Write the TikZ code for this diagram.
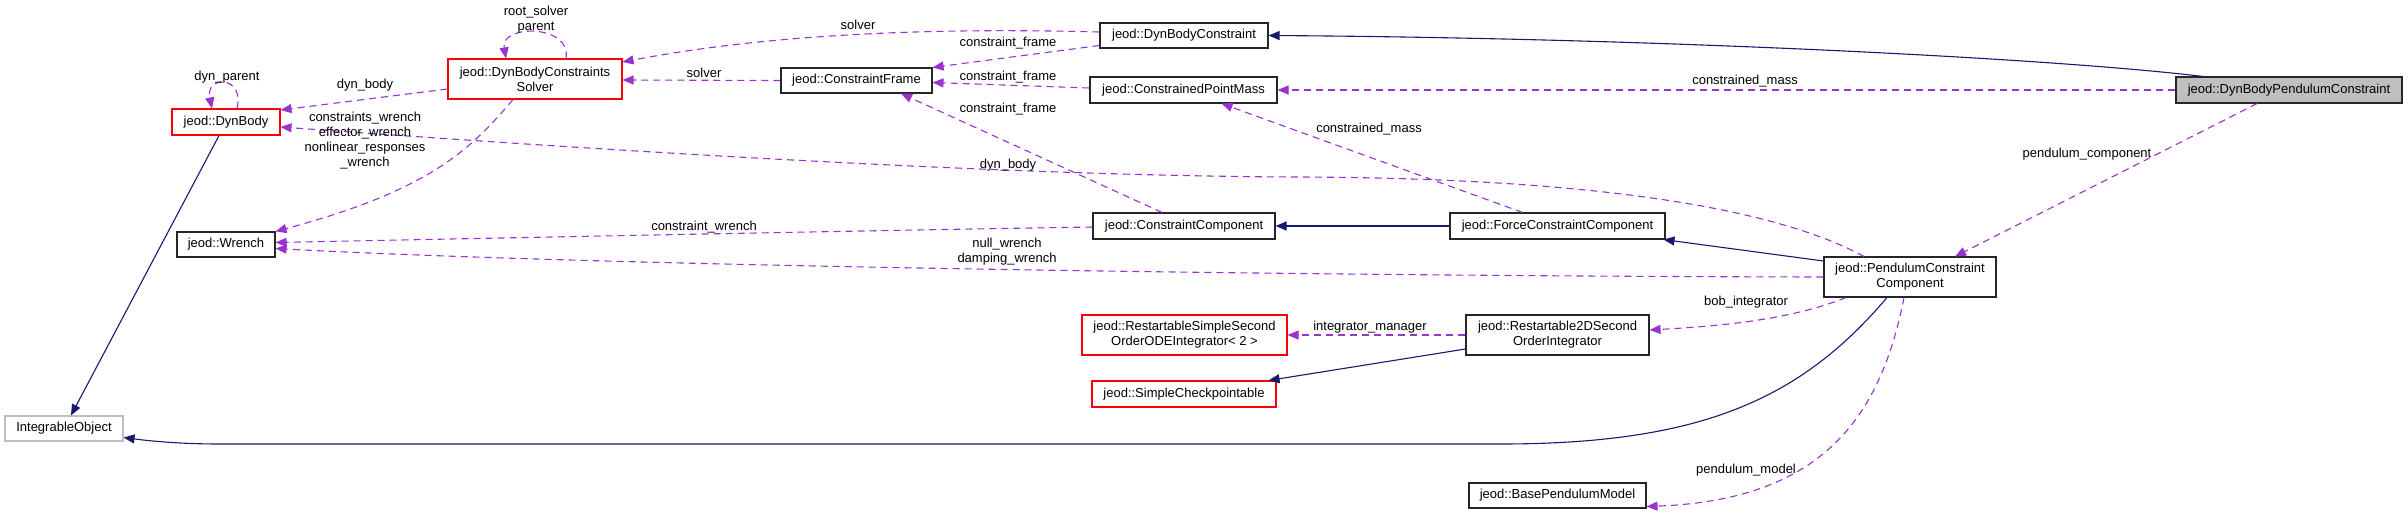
\documentclass[tikz,border=0pt]{standalone}
\usepackage{fontspec}
\setmainfont{Liberation Sans}
\usetikzlibrary{arrows.meta}
\definecolor{edgepurple}{HTML}{9A32CD}
\definecolor{inhblue}{HTML}{191970}
\definecolor{boxgray}{HTML}{BFBFBF}
\begin{document}
\begin{tikzpicture}[x=1pt,y=-1pt,
  font=\fontsize{13}{15}\selectfont,
  cls/.style 2 args={draw=black!85, line width=1.1pt, fill=white, inner sep=0pt,
    align=center, minimum width=#1, minimum height=#2},
  redcls/.style={draw=red},
  graycls/.style={draw=boxgray},
  lbl/.style={inner sep=0pt, align=center},
  dep/.style={draw=edgepurple, line width=1.1pt, dash pattern=on 7pt off 5pt,
    -{Triangle[length=11pt,width=9pt,fill=edgepurple]}},
  inh/.style={draw=inhblue, line width=1.1pt,
    -{Triangle[length=11pt,width=9pt,fill=inhblue]}}]
\fill[white] (0,0) rectangle (2408,515);
\useasboundingbox (0,0) rectangle (2408,515);

% nodes
\node[cls={118pt}{25pt}, graycls] (IO) at (64,428.5) {IntegrableObject};
\node[cls={108pt}{26pt}, redcls] (DynBody) at (226,122) {jeod::DynBody};
\node[cls={98pt}{25pt}] (Wrench) at (226,244.5) {jeod::Wrench};
\node[cls={174pt}{40pt}, redcls] (Solver) at (535,79) {jeod::DynBodyConstraints\\Solver};
\node[cls={151pt}{25pt}] (CF) at (856.5,80.5) {jeod::ConstraintFrame};
\node[cls={168pt}{25pt}] (DBC) at (1184,35.5) {jeod::DynBodyConstraint};
\node[cls={187pt}{26pt}] (CPM) at (1183.5,90) {jeod::ConstrainedPointMass};
\node[cls={182pt}{26pt}] (CC) at (1184,226) {jeod::ConstraintComponent};
\node[cls={215pt}{26pt}] (FCC) at (1557.5,226) {jeod::ForceConstraintComponent};
\node[cls={226pt}{26pt}, fill=boxgray] (DBPC) at (2289,90) {jeod::DynBodyPendulumConstraint};
\node[cls={172pt}{40pt}] (PCC) at (1910,277) {jeod::PendulumConstraint\\Component};
\node[cls={205pt}{40pt}, redcls] (RSS) at (1184.5,335) {jeod::RestartableSimpleSecond\\OrderODEIntegrator< 2 >};
\node[cls={183pt}{40pt}] (R2D) at (1557.5,335) {jeod::Restartable2DSecond\\OrderIntegrator};
\node[cls={184pt}{26pt}, redcls] (SC) at (1184,394) {jeod::SimpleCheckpointable};
\node[cls={177pt}{25pt}] (BPM) at (1557.5,495.5) {jeod::BasePendulumModel};

% edges
\draw[inh] ([xshift=-86pt]DBPC.north) .. controls (2050,58) and (1650,38) .. (DBC.east);
\draw[dep] (DBPC.west) -- (CPM.east);
\draw[dep] ([xshift=-32pt]DBPC.south) -- ([xshift=45pt]PCC.north);
\draw[dep] ([yshift=3.5pt]DBC.west) .. controls (950,28) and (780,32) .. ([yshift=17pt]Solver.east);
\draw[dep] ([yshift=-10pt]DBC.west) -- (CF.north east);
\draw[dep] ([yshift=2pt]CPM.west) -- ([yshift=-2pt]CF.east);
\draw[dep] (CF.west) -- ([yshift=-1pt]Solver.east);
\draw[dep] ([yshift=-10pt]Solver.west) -- ([yshift=12pt]DynBody.east);
\draw[dep] ([xshift=-22pt]Solver.south) .. controls (470,150) and (430,190) .. (Wrench.north east);
\draw[dep] ([xshift=11pt]DynBody.north) .. controls (245,75) and (205,75) .. ([xshift=-14pt]DynBody.north);
\draw[dep] ([xshift=31pt]Solver.north) .. controls (572,24) and (500,24) .. ([xshift=-29pt]Solver.north);
\draw[dep] ([xshift=-22pt]CC.north) -- ([xshift=44.5pt]CF.south);
\draw[dep] ([yshift=-1pt]CC.west) .. controls (900,230) and (600,236) .. ([yshift=2pt]Wrench.east);
\draw[inh] (FCC.west) -- (CC.east);
\draw[dep] ([xshift=-35pt]FCC.north) -- ([xshift=38pt]CPM.south);
\draw[inh] ([yshift=16pt]PCC.west) -- ([xshift=-2pt]FCC.south east);
\draw[dep] ([xshift=-46pt]PCC.north) .. controls (1760,200) and (1550,178) .. (1300,177)
  .. controls (1000,176) and (600,150) .. ([yshift=-5pt]DynBody.east);
\draw[dep] (PCC.west) .. controls (1300,276) and (600,266) .. ([yshift=-4pt]Wrench.east);
\draw[dep] (R2D.west) -- (RSS.east);
\draw[inh] ([yshift=-14pt]R2D.west) -- ([xshift=-8pt]SC.north east);
\draw[dep] ([xshift=-64pt]PCC.south) .. controls (1790,320) and (1720,326) .. ([yshift=5pt]R2D.east);
\draw[inh] ([xshift=-23pt]PCC.south) .. controls (1800,400) and (1700,444) .. (1500,444)
  -- (220,444) .. controls (180,444) and (150,441) .. ([yshift=-9pt]IO.east);
\draw[dep] ([xshift=-6pt]PCC.south) .. controls (1880,420) and (1820,500) .. ([yshift=-11pt]BPM.east);
\draw[inh] ([xshift=-7pt]DynBody.south) -- ([xshift=7pt]IO.north);

% labels
\node[lbl] (lcm1) at (1745,81) {constrained\_mass};
\node[lbl] (lpc) at (2087,154) {pendulum\_component};
\node[lbl] (lsv1) at (858,25) {solver};
\node[lbl] (lcf1) at (1008,43) {constraint\_frame};
\node[lbl] (lcf2) at (1008,77) {constraint\_frame};
\node[lbl] (lsv2) at (704,73) {solver};
\node[lbl] (ldb1) at (365,85) {dyn\_body};
\node[lbl] (lcw) at (365,140.5) {constraints\_wrench\\effector\_wrench\\nonlinear\_responses\\\_wrench};
\node[lbl] (ldp) at (227,77) {dyn\_parent};
\node[lbl] (lrs) at (536,19.5) {root\_solver\\parent};
\node[lbl] (lcf3) at (1008,109) {constraint\_frame};
\node[lbl] (lcw2) at (704,227) {constraint\_wrench};
\node[lbl] (lcm2) at (1369,129) {constrained\_mass};
\node[lbl] (ldb2) at (1008,165) {dyn\_body};
\node[lbl] (lnw) at (1007,252) {null\_wrench\\damping\_wrench};
\node[lbl] (lim) at (1370,327) {integrator\_manager};
\node[lbl] (lbi) at (1746,302) {bob\_integrator};
\node[lbl] (lpm) at (1746,470) {pendulum\_model};
\end{tikzpicture}
\end{document}
